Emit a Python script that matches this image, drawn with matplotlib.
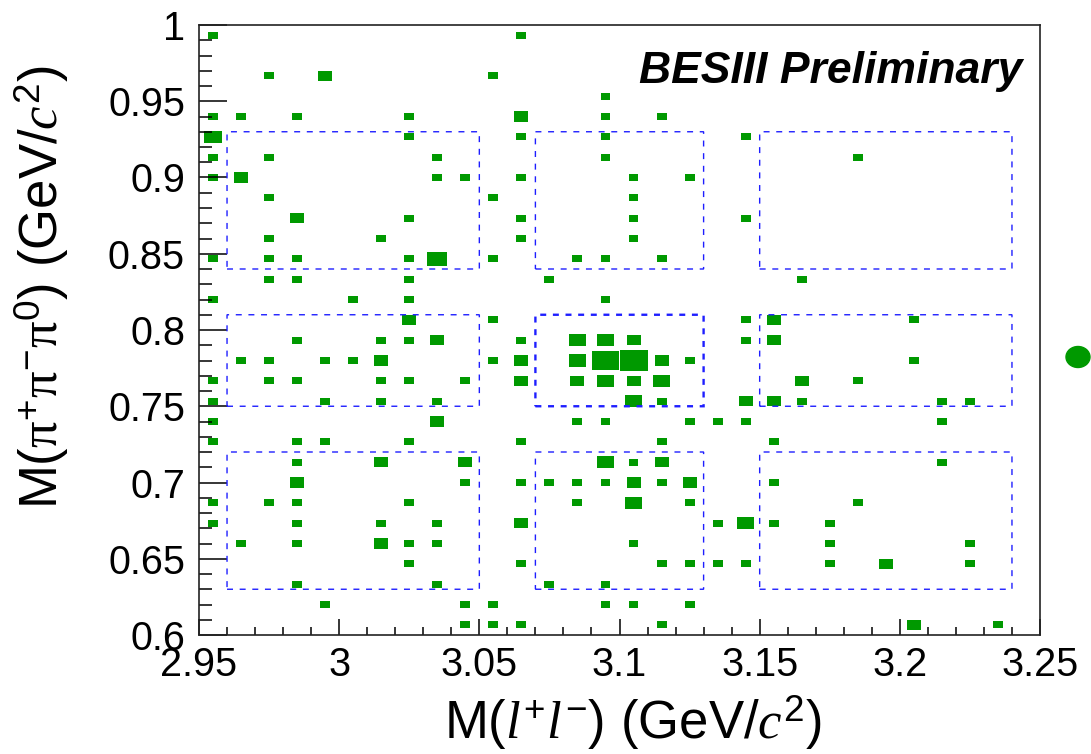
"""Box plot of M(pi+pi-pi0) versus M(l+l-) with signal and sideband regions."""

import matplotlib

matplotlib.use("Agg")
import matplotlib.pyplot as plt
import numpy as np
from matplotlib.patches import Ellipse, Rectangle
from matplotlib.ticker import FuncFormatter, MultipleLocator
from matplotlib.transforms import ScaledTranslation

plt.rcParams["font.family"] = ["Liberation Sans", "DejaVu Sans"]
plt.rcParams["mathtext.fontset"] = "custom"
plt.rcParams["mathtext.rm"] = "Liberation Sans"
plt.rcParams["mathtext.it"] = "Liberation Serif:italic"
plt.rcParams["mathtext.sf"] = "Liberation Serif"
plt.rcParams["lines.scale_dashes"] = False

GREEN = "#009900"
BLUE = "#1e1eff"

# events per bin: M(l+l-) [GeV/c^2], M(pi+pi-pi0) [GeV/c^2], number of entries
m_ll = [
    2.955, 3.065,
    2.975, 2.995, 3.055,
    3.095,
    2.955, 2.965, 2.985, 3.025, 3.065, 3.095, 3.115,
    2.955, 3.025, 3.065, 3.095, 3.145,
    2.955, 2.975, 3.035, 3.095, 3.185,
    2.955, 2.965, 3.035, 3.045, 3.065, 3.105, 3.125,
    2.975, 3.055, 3.105,
    2.985, 3.025, 3.065, 3.105, 3.145,
    2.975, 3.015, 3.065, 3.105,
    2.955, 2.975, 2.985, 3.025, 3.035, 3.055, 3.085, 3.095, 3.115,
    2.975, 2.985, 3.025, 3.075, 3.165,
    2.955, 3.005, 3.025, 3.095,
    3.025, 3.055, 3.145, 3.155, 3.205,
    2.985, 3.015, 3.025, 3.035, 3.065, 3.085, 3.095, 3.105, 3.145, 3.155,
    2.965, 2.975, 2.995, 3.005, 3.015, 3.055, 3.065, 3.085, 3.095, 3.105, 3.115, 3.125, 3.205,
    2.955, 2.975, 2.985, 3.015, 3.025, 3.045, 3.065, 3.085, 3.095, 3.105, 3.115, 3.165, 3.185,
    2.955, 2.995, 3.015, 3.035, 3.105, 3.115, 3.145, 3.155, 3.165, 3.215, 3.225,
    2.955, 3.035, 3.085, 3.095, 3.125, 3.135, 3.145, 3.215,
    2.955, 2.985, 2.995, 3.025, 3.065, 3.115, 3.155,
    2.985, 3.015, 3.045, 3.095, 3.105, 3.115, 3.215,
    2.985, 3.045, 3.065, 3.075, 3.085, 3.095, 3.105, 3.115, 3.125, 3.155,
    2.955, 2.975, 2.985, 3.025, 3.085, 3.105, 3.125, 3.185,
    2.955, 2.985, 3.015, 3.035, 3.065, 3.135, 3.145, 3.155, 3.175,
    2.965, 2.985, 3.015, 3.025, 3.035, 3.105, 3.175, 3.225,
    3.025, 3.065, 3.115, 3.125, 3.135, 3.145, 3.175, 3.195, 3.225,
    2.985, 3.035, 3.075, 3.095,
    2.995, 3.045, 3.055, 3.095, 3.105, 3.125,
    3.045, 3.055, 3.065, 3.115, 3.205, 3.235,
]
m_3pi = (
    [0.993] * 2 + [0.967] * 3 + [0.953] * 1 + [0.940] * 7 + [0.927] * 5
    + [0.913] * 5 + [0.900] * 7 + [0.887] * 3 + [0.873] * 5 + [0.860] * 4
    + [0.847] * 9 + [0.833] * 5 + [0.820] * 4 + [0.807] * 5 + [0.793] * 10
    + [0.780] * 13 + [0.767] * 13 + [0.753] * 11 + [0.740] * 8 + [0.727] * 7
    + [0.713] * 7 + [0.700] * 10 + [0.687] * 8 + [0.673] * 9 + [0.660] * 8
    + [0.647] * 9 + [0.633] * 4 + [0.620] * 6 + [0.607] * 6
)
n_events = [
    1, 1,
    1, 2, 1,
    1,
    1, 1, 1, 1, 2, 1, 1,
    3, 1, 1, 1, 1,
    1, 1, 1, 1, 1,
    1, 2, 1, 1, 1, 1, 1,
    1, 1, 1,
    2, 1, 1, 1, 1,
    1, 1, 1, 1,
    1, 1, 1, 1, 4, 1, 1, 1, 1,
    1, 1, 1, 1, 1,
    1, 1, 1, 1,
    2, 1, 1, 2, 1,
    1, 1, 1, 2, 1, 3, 3, 2, 1, 2,
    1, 1, 1, 1, 2, 1, 2, 3, 7, 8, 2, 1, 1,
    1, 1, 1, 1, 1, 1, 2, 2, 3, 2, 3, 2, 1,
    1, 1, 1, 1, 3, 1, 2, 2, 1, 1, 1,
    1, 2, 1, 1, 1, 1, 1, 1,
    1, 1, 1, 1, 1, 1, 1,
    1, 2, 2, 3, 1, 2, 1,
    2, 1, 1, 1, 1, 1, 2, 1, 2, 1,
    1, 1, 1, 1, 1, 3, 1, 1,
    1, 1, 1, 1, 2, 1, 3, 1, 1,
    1, 1, 2, 1, 1, 1, 1, 1,
    1, 1, 1, 1, 1, 1, 1, 2, 1,
    1, 1, 1, 1,
    1, 1, 1, 1, 1, 1,
    1, 1, 1, 1, 2, 1,
]

# signal region is the middle cell, the others are sidebands
region_ll = [(2.96, 3.05), (3.07, 3.13), (3.15, 3.24)]
region_3pi = [(0.84, 0.93), (0.75, 0.81), (0.63, 0.72)]

x_edges = np.linspace(2.95, 3.25, 31)
y_edges = np.linspace(0.60, 1.00, 31)
counts, _, _ = np.histogram2d(m_ll, m_3pi, bins=[x_edges, y_edges], weights=n_events)

W, H, DPI = 1091, 754, 100
fig = plt.figure(figsize=(W / DPI, H / DPI), dpi=DPI)
ax = fig.add_axes([199 / W, 1 - 635 / H, 841 / W, 610 / H])

# ROOT-style "box" drawing: box area proportional to bin content
dx = x_edges[1] - x_edges[0]
dy = y_edges[1] - y_edges[0]
zmax = counts.max()
for ix, iy in zip(*np.nonzero(counts)):
    r = np.sqrt(counts[ix, iy] / zmax)
    xc = 0.5 * (x_edges[ix] + x_edges[ix + 1])
    yc = 0.5 * (y_edges[iy] + y_edges[iy + 1])
    ax.add_patch(Rectangle((xc - 0.5 * dx * r, yc - 0.5 * dy * r), dx * r, dy * r,
                           facecolor=GREEN, edgecolor="none"))

for row, (y0, y1) in enumerate(region_3pi):
    for col, (x0, x1) in enumerate(region_ll):
        signal = row == 1 and col == 1
        ax.add_patch(Rectangle((x0, y0), x1 - x0, y1 - y0, fill=False,
                               edgecolor=BLUE, lw=1.7 if signal else 1.0,
                               linestyle=(0, (4.3, 4.8)), snap=False, zorder=3))

ax.set_xlim(2.95, 3.25)
ax.set_ylim(0.60, 1.00)
ax.xaxis.set_major_locator(MultipleLocator(0.05))
ax.xaxis.set_minor_locator(MultipleLocator(0.01))
ax.yaxis.set_major_locator(MultipleLocator(0.05))
ax.yaxis.set_minor_locator(MultipleLocator(0.01))
fmt = FuncFormatter(lambda v, _: f"{v:g}")
ax.xaxis.set_major_formatter(fmt)
ax.yaxis.set_major_formatter(fmt)

ax.tick_params(axis="both", which="both", direction="in", top=False, right=False,
               width=1.1, labelsize=28.5)
ax.tick_params(axis="y", which="major", length=20, pad=10)
ax.tick_params(axis="y", which="minor", length=9.5)
ax.tick_params(axis="x", which="major", length=11.5, pad=8)
ax.tick_params(axis="x", which="minor", length=5.8)
for spine in ax.spines.values():
    spine.set_linewidth(1.2)
    spine.set_color("#222222")

# first x label is nudged right so it clears the y labels
first = ax.xaxis.get_major_ticks()[0].label1
first.set_transform(first.get_transform() + ScaledTranslation(0.12, 0, fig.dpi_scale_trans))

fig.text(42 / W, 1 - 287 / H,
         r"M($\mathsf{\pi}^{+}\mathsf{\pi}^{-}\mathsf{\pi}^{0}$) (GeV/$c^{2}$)",
         rotation=90, ha="center", va="center", fontsize=38)
fig.text(633 / W, 1 - 723 / H, r"M($l^{+}l^{-}$) (GeV/$c^{2}$)",
         ha="center", va="center", fontsize=38)
fig.text(1022 / W, 1 - 83.5 / H, "BESIII Preliminary", fontsize=32,
         fontweight="bold", fontstyle="italic", ha="right", va="baseline")

fig.add_artist(Ellipse((1078 / W, 1 - 357 / H), 24 / W, 21 / H,
                       transform=fig.transFigure, color=GREEN))

fig.savefig("out.png", dpi=DPI)
